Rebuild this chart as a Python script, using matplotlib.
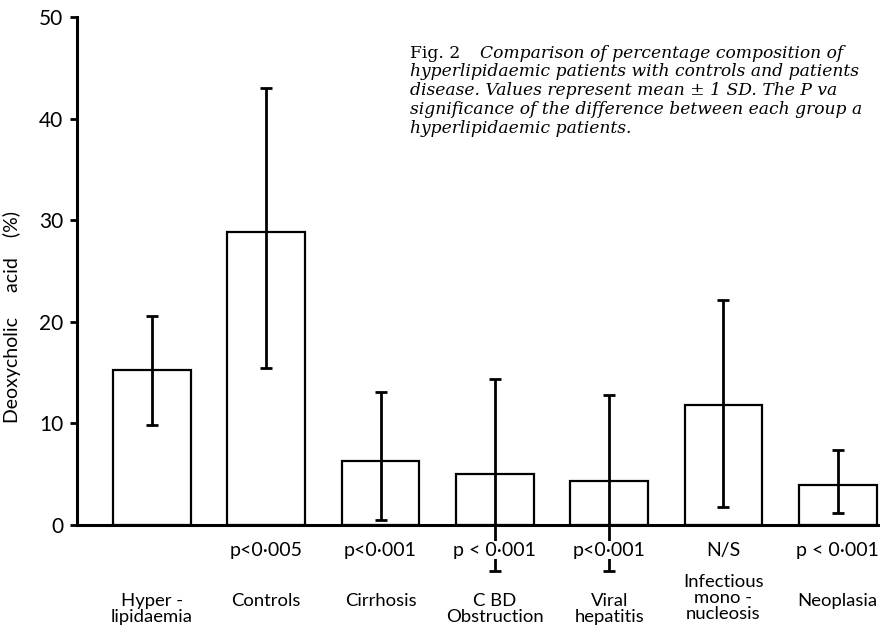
import numpy as np
import matplotlib.pyplot as plt

plt.rcParams['font.family'] = ['Lato', 'DejaVu Sans']

groups = ['Hyper -\nlipidaemia', 'Controls', 'Cirrhosis', 'C BD\nObstruction',
          'Viral\nhepatitis', 'Infectious\nmono -\nnucleosis', 'Neoplasia']
means = [15.3, 28.8, 6.3, 5.0, 4.3, 11.8, 3.9]
err_low = [9.8, 15.5, 0.5, -4.5, -4.5, 1.8, 1.2]
err_high = [20.6, 43.0, 13.1, 14.4, 12.8, 22.2, 7.35]
p_labels = ['', 'p<0·005', 'p<0·001', 'p < 0·001', 'p<0·001', 'N/S', 'p < 0·001']

caption = ['hyperlipidaemic patients with controls and patients',
           'disease. Values represent mean \u00b1 1 SD. The P va',
           'significance of the difference between each group a',
           'hyperlipidaemic patients.']

x = np.arange(len(groups))
means = np.array(means)
lo = means - np.array(err_low)
hi = np.array(err_high) - means

fig = plt.figure(figsize=(8.8, 6.36), dpi=100)
ax = fig.add_axes([0.0875, 0.1745, 0.9125, 0.7985])

ax.bar(x, means, width=0.68, facecolor='white', edgecolor='black', linewidth=1.6, zorder=2)
eb = ax.errorbar(x, means, yerr=[lo, hi], fmt='none', ecolor='black', elinewidth=2,
                 capsize=4.5, capthick=2, zorder=3)
for part in eb.get_children():
    part.set_clip_on(False)

ax.set_xlim(-0.656, 6.37)
ax.set_ylim(0, 50)
ax.set_yticks([0, 10, 20, 30, 40, 50])
ax.tick_params(axis='y', length=5, width=2, labelsize=15, pad=5)
ax.set_xticks([])
for s in ['top', 'right']:
    ax.spines[s].set_visible(False)
ax.spines['left'].set_linewidth(2.2)
ax.spines['bottom'].set_linewidth(2.2)

ax.set_ylabel('Deoxycholic     acid    (%)', fontsize=14)
ax.yaxis.set_label_coords(-0.07, 0.41)

for i in range(len(groups)):
    if p_labels[i]:
        ax.annotate(p_labels[i], xy=(x[i], 0), xytext=(0, -18), textcoords='offset points',
                    ha='center', va='center', fontsize=14, zorder=5,
                    bbox=dict(facecolor='white', edgecolor='none', pad=0.5))
    nlines = groups[i].count('\n') + 1
    off = -49 if nlines < 3 else -35
    ax.annotate(groups[i], xy=(x[i], 0), xytext=(0, off), textcoords='offset points',
                ha='center', va='top', fontsize=13.3, linespacing=1.0)

cap_kw = dict(family='DejaVu Serif', fontsize=12.3, va='center', ha='left')
fig.text(410 / 880, 1 - 53 / 636, 'Fig. 2', **cap_kw)
fig.text(480 / 880, 1 - 53 / 636, 'Comparison of percentage composition of',
         style='italic', **cap_kw)
for k, line in enumerate(caption):
    fig.text(410 / 880, 1 - (72 + 18.7 * k) / 636, line, style='italic', **cap_kw)

fig.savefig('out.png', dpi=100)
